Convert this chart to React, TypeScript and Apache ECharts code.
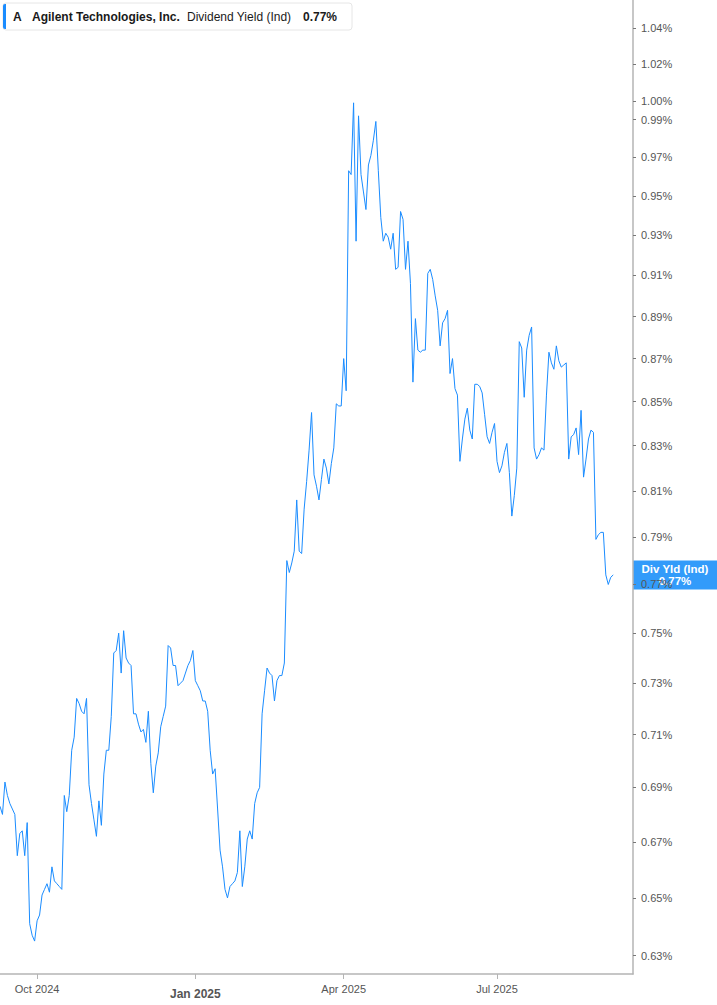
import React, { useEffect, useRef } from 'react';
import * as echarts from 'echarts';

// Trading-day calendar (NYSE closures inside the window)
const START_DATE = '2024-09-10';
const CATEGORY_COUNT = 257;
const MARKET_HOLIDAYS = [
  '2024-11-28', '2024-12-25', '2025-01-01', '2025-01-09', '2025-01-20',
  '2025-02-17', '2025-04-18', '2025-05-26', '2025-06-19', '2025-07-04', '2025-09-01'
];

// Dividend yield (%), one value per trading day
const yieldSep2024 = [
  0.683, 0.680, 0.692, 0.687, 0.684, 0.682, 0.680, 0.665, 0.673, 0.674,
  0.665, 0.677, 0.641, 0.637, 0.635
];
const yieldQ4_2024 = [
  0.642, 0.644, 0.651, 0.653, 0.655, 0.652, 0.661, 0.656, 0.655, 0.654,
  0.653, 0.687, 0.681, 0.687, 0.704, 0.709, 0.724, 0.722, 0.719, 0.718,
  0.724, 0.691, 0.684, 0.678, 0.672, 0.685, 0.676, 0.695, 0.704, 0.704,
  0.717, 0.742, 0.743, 0.750, 0.734, 0.751, 0.740, 0.738, 0.737, 0.718,
  0.718, 0.714, 0.711, 0.712, 0.707, 0.719, 0.699, 0.688, 0.698, 0.703,
  0.713, 0.717, 0.721, 0.745, 0.744, 0.737, 0.737, 0.729, 0.730, 0.731,
  0.734, 0.737, 0.739, 0.743
];
const yieldQ1_2025 = [
  0.731, 0.729, 0.727, 0.723, 0.723, 0.719, 0.704, 0.695, 0.697, 0.682,
  0.667, 0.661, 0.653, 0.650, 0.654, 0.655, 0.656, 0.659, 0.674, 0.654,
  0.661, 0.671, 0.674, 0.671, 0.684, 0.688, 0.690, 0.718, 0.727, 0.736,
  0.734, 0.733, 0.723, 0.731, 0.733, 0.733, 0.738, 0.780, 0.775, 0.779,
  0.784, 0.806, 0.784, 0.783, 0.802, 0.814, 0.828, 0.845, 0.817, 0.812,
  0.806, 0.815, 0.824, 0.820, 0.813, 0.822, 0.829, 0.849, 0.848, 0.848
];
const yieldQ2_2025 = [
  0.870, 0.855, 0.963, 0.961, 0.999, 0.927, 0.992, 0.961, 0.952, 0.943,
  0.966, 0.971, 0.979, 0.989, 0.963, 0.939, 0.927, 0.931, 0.929, 0.923,
  0.931, 0.913, 0.914, 0.942, 0.938, 0.913, 0.927, 0.906, 0.859, 0.889,
  0.874, 0.873, 0.874, 0.874, 0.911, 0.913, 0.908, 0.900, 0.893, 0.876,
  0.887, 0.889, 0.893, 0.863, 0.870, 0.856, 0.853, 0.823, 0.833, 0.842,
  0.847, 0.837, 0.833, 0.858, 0.858, 0.857, 0.854, 0.844, 0.834, 0.831,
  0.836, 0.840
];
const yieldQ3_2025 = [
  0.823, 0.818, 0.821, 0.827, 0.831, 0.818, 0.799, 0.808, 0.820, 0.878,
  0.875, 0.852, 0.874, 0.881, 0.885, 0.829, 0.824, 0.826, 0.829, 0.828,
  0.853, 0.873, 0.868, 0.865, 0.876, 0.869, 0.866, 0.867, 0.868, 0.824,
  0.834, 0.835, 0.838, 0.826, 0.846, 0.816, 0.824, 0.833, 0.837, 0.836,
  0.789, 0.791, 0.792, 0.792, 0.774, 0.770, 0.773, 0.774
];

// Right axis tick labels (log scale)
const Y_TICKS = [
  1.04, 1.02, 1.0, 0.99, 0.97, 0.95, 0.93, 0.91, 0.89, 0.87, 0.85,
  0.83, 0.81, 0.79, 0.77, 0.75, 0.73, 0.71, 0.69, 0.67, 0.65, 0.63
];
const Y_MIN = 0.6238;
const Y_MAX = 1.0561;

const TICKER = 'A';
const COMPANY = 'Agilent Technologies, Inc.';
const METRIC = 'Dividend Yield (Ind)';
const METRIC_VALUE = '0.77%';
const END_LABEL_NAME = 'Div Yld (Ind)';
const END_LABEL_VALUE = '0.77%';

const MONTHS = ['Jan', 'Feb', 'Mar', 'Apr', 'May', 'Jun', 'Jul', 'Aug', 'Sep', 'Oct', 'Nov', 'Dec'];
const LINE_COLOR = '#1a8cff';
const FONT = '"Liberation Sans", Arial, sans-serif';

function tradingDays(start: string, count: number): string[] {
  const out: string[] = [];
  const d = new Date(start + 'T00:00:00Z');
  while (out.length < count) {
    const iso = d.toISOString().slice(0, 10);
    const wd = d.getUTCDay();
    if (wd !== 0 && wd !== 6 && !MARKET_HOLIDAYS.includes(iso)) out.push(iso);
    d.setUTCDate(d.getUTCDate() + 1);
  }
  return out;
}

const App: React.FC = () => {
  const chartRef = useRef<HTMLDivElement>(null);

  useEffect(() => {
    if (!chartRef.current) return;
    const chart = echarts.init(chartRef.current, undefined, { renderer: 'svg' });

    const dates = tradingDays(START_DATE, CATEGORY_COUNT);
    const values = [...yieldSep2024, ...yieldQ4_2024, ...yieldQ1_2025, ...yieldQ2_2025, ...yieldQ3_2025];

    // first trading day of each quarter
    const quarterStarts = new Set<number>();
    dates.forEach((d, i) => {
      const m = Number(d.slice(5, 7)) - 1;
      if (i > 0 && m % 3 === 0 && dates[i - 1].slice(5, 7) !== d.slice(5, 7)) quarterStarts.add(i);
    });
    const showAt = (i: number) => quarterStarts.has(i);
    const tickLogs = Y_TICKS.map((t) => Math.log(t));

    const option: any = {
      animation: false,
      backgroundColor: '#ffffff',
      grid: { left: 0, right: 84, top: 0, bottom: 31 },
      xAxis: {
        type: 'category',
        data: dates,
        boundaryGap: false,
        axisLine: { onZero: false, lineStyle: { color: '#b4b4b4', width: 1.5 } },
        axisTick: { show: true, interval: showAt, length: 5, lineStyle: { color: '#b4b4b4' } },
        axisLabel: {
          interval: showAt,
          color: '#555',
          fontSize: 11,
          fontFamily: FONT,
          margin: 9,
          formatter: (v: string) => {
            const m = Number(v.slice(5, 7)) - 1;
            const txt = `${MONTHS[m]} ${v.slice(0, 4)}`;
            return m === 0 ? `{yr|${txt}}` : txt;
          },
          rich: {
            yr: { fontWeight: 'bold', fontSize: 12, color: '#555', fontFamily: FONT, padding: [5, 0, 0, 0] }
          }
        },
        splitLine: { show: false }
      },
      yAxis: {
        type: 'value',
        position: 'right',
        min: Math.log(Y_MIN),
        max: Math.log(Y_MAX),
        axisLine: { show: true, lineStyle: { color: '#b4b4b4', width: 1.5 } },
        axisTick: { show: true, customValues: tickLogs, length: 3, lineStyle: { color: '#777' } },
        axisLabel: {
          customValues: tickLogs,
          formatter: (v: number) => Math.exp(v).toFixed(2) + '%',
          color: '#555',
          fontSize: 11,
          fontFamily: FONT,
          margin: 8
        },
        splitLine: { show: false }
      },
      series: [
        {
          name: END_LABEL_NAME,
          type: 'line',
          data: values.map((v) => Math.log(v)),
          showSymbol: false,
          symbol: 'none',
          silent: true,
          lineStyle: { color: LINE_COLOR, width: 1 },
          itemStyle: { color: LINE_COLOR }
        }
      ]
    };

    chart.setOption(option);

    // end-of-series label sitting on the right axis
    const lastY = chart.convertToPixel({ yAxisIndex: 0 }, Math.log(values[values.length - 1])) as number;
    const axisX = 717 - 84;
    chart.setOption({
      graphic: [
        {
          id: 'legend',
          type: 'group',
          x: 3,
          y: 3,
          children: [
            { type: 'rect', shape: { x: 0, y: 0, width: 349, height: 27, r: 3 }, style: { fill: '#fff', stroke: '#e6e6e6', lineWidth: 1 } },
            { type: 'rect', shape: { x: 0, y: 1, width: 3, height: 25, r: [2, 0, 0, 2] }, style: { fill: LINE_COLOR } },
            { type: 'text', x: 10, y: 14, style: { text: TICKER, font: `bold 12px ${FONT}`, fill: '#1a1a1a', verticalAlign: 'middle' } },
            { type: 'text', x: 29, y: 14, style: { text: COMPANY, font: `bold 12px ${FONT}`, fill: '#1a1a1a', verticalAlign: 'middle' } },
            { type: 'text', x: 184, y: 14, style: { text: METRIC, font: `12px ${FONT}`, fill: '#1a1a1a', verticalAlign: 'middle' } },
            { type: 'text', x: 300, y: 14, style: { text: METRIC_VALUE, font: `bold 12px ${FONT}`, fill: '#1a1a1a', verticalAlign: 'middle' } }
          ]
        },
        {
          id: 'endLabel',
          type: 'group',
          x: axisX,
          y: lastY - 14.5,
          z: 100,
          children: [
            { type: 'rect', shape: { x: 0, y: 0, width: 84, height: 29 }, style: { fill: 'rgba(33,146,250,0.92)' } },
            { type: 'text', x: 42, y: 9, style: { text: END_LABEL_NAME, font: `bold 11.5px ${FONT}`, fill: '#fff', align: 'center', verticalAlign: 'middle' } },
            { type: 'text', x: 42, y: 20.5, style: { text: END_LABEL_VALUE, font: `bold 11.5px ${FONT}`, fill: '#fff', align: 'center', verticalAlign: 'middle' } }
          ]
        }
      ]
    });

    return () => {
      chart.dispose();
    };
  }, []);

  return (
    <div
      ref={chartRef}
      style={{ position: 'fixed', left: 0, top: 0, width: 717, height: 1005, background: '#fff' }}
    />
  );
};

export default App;
